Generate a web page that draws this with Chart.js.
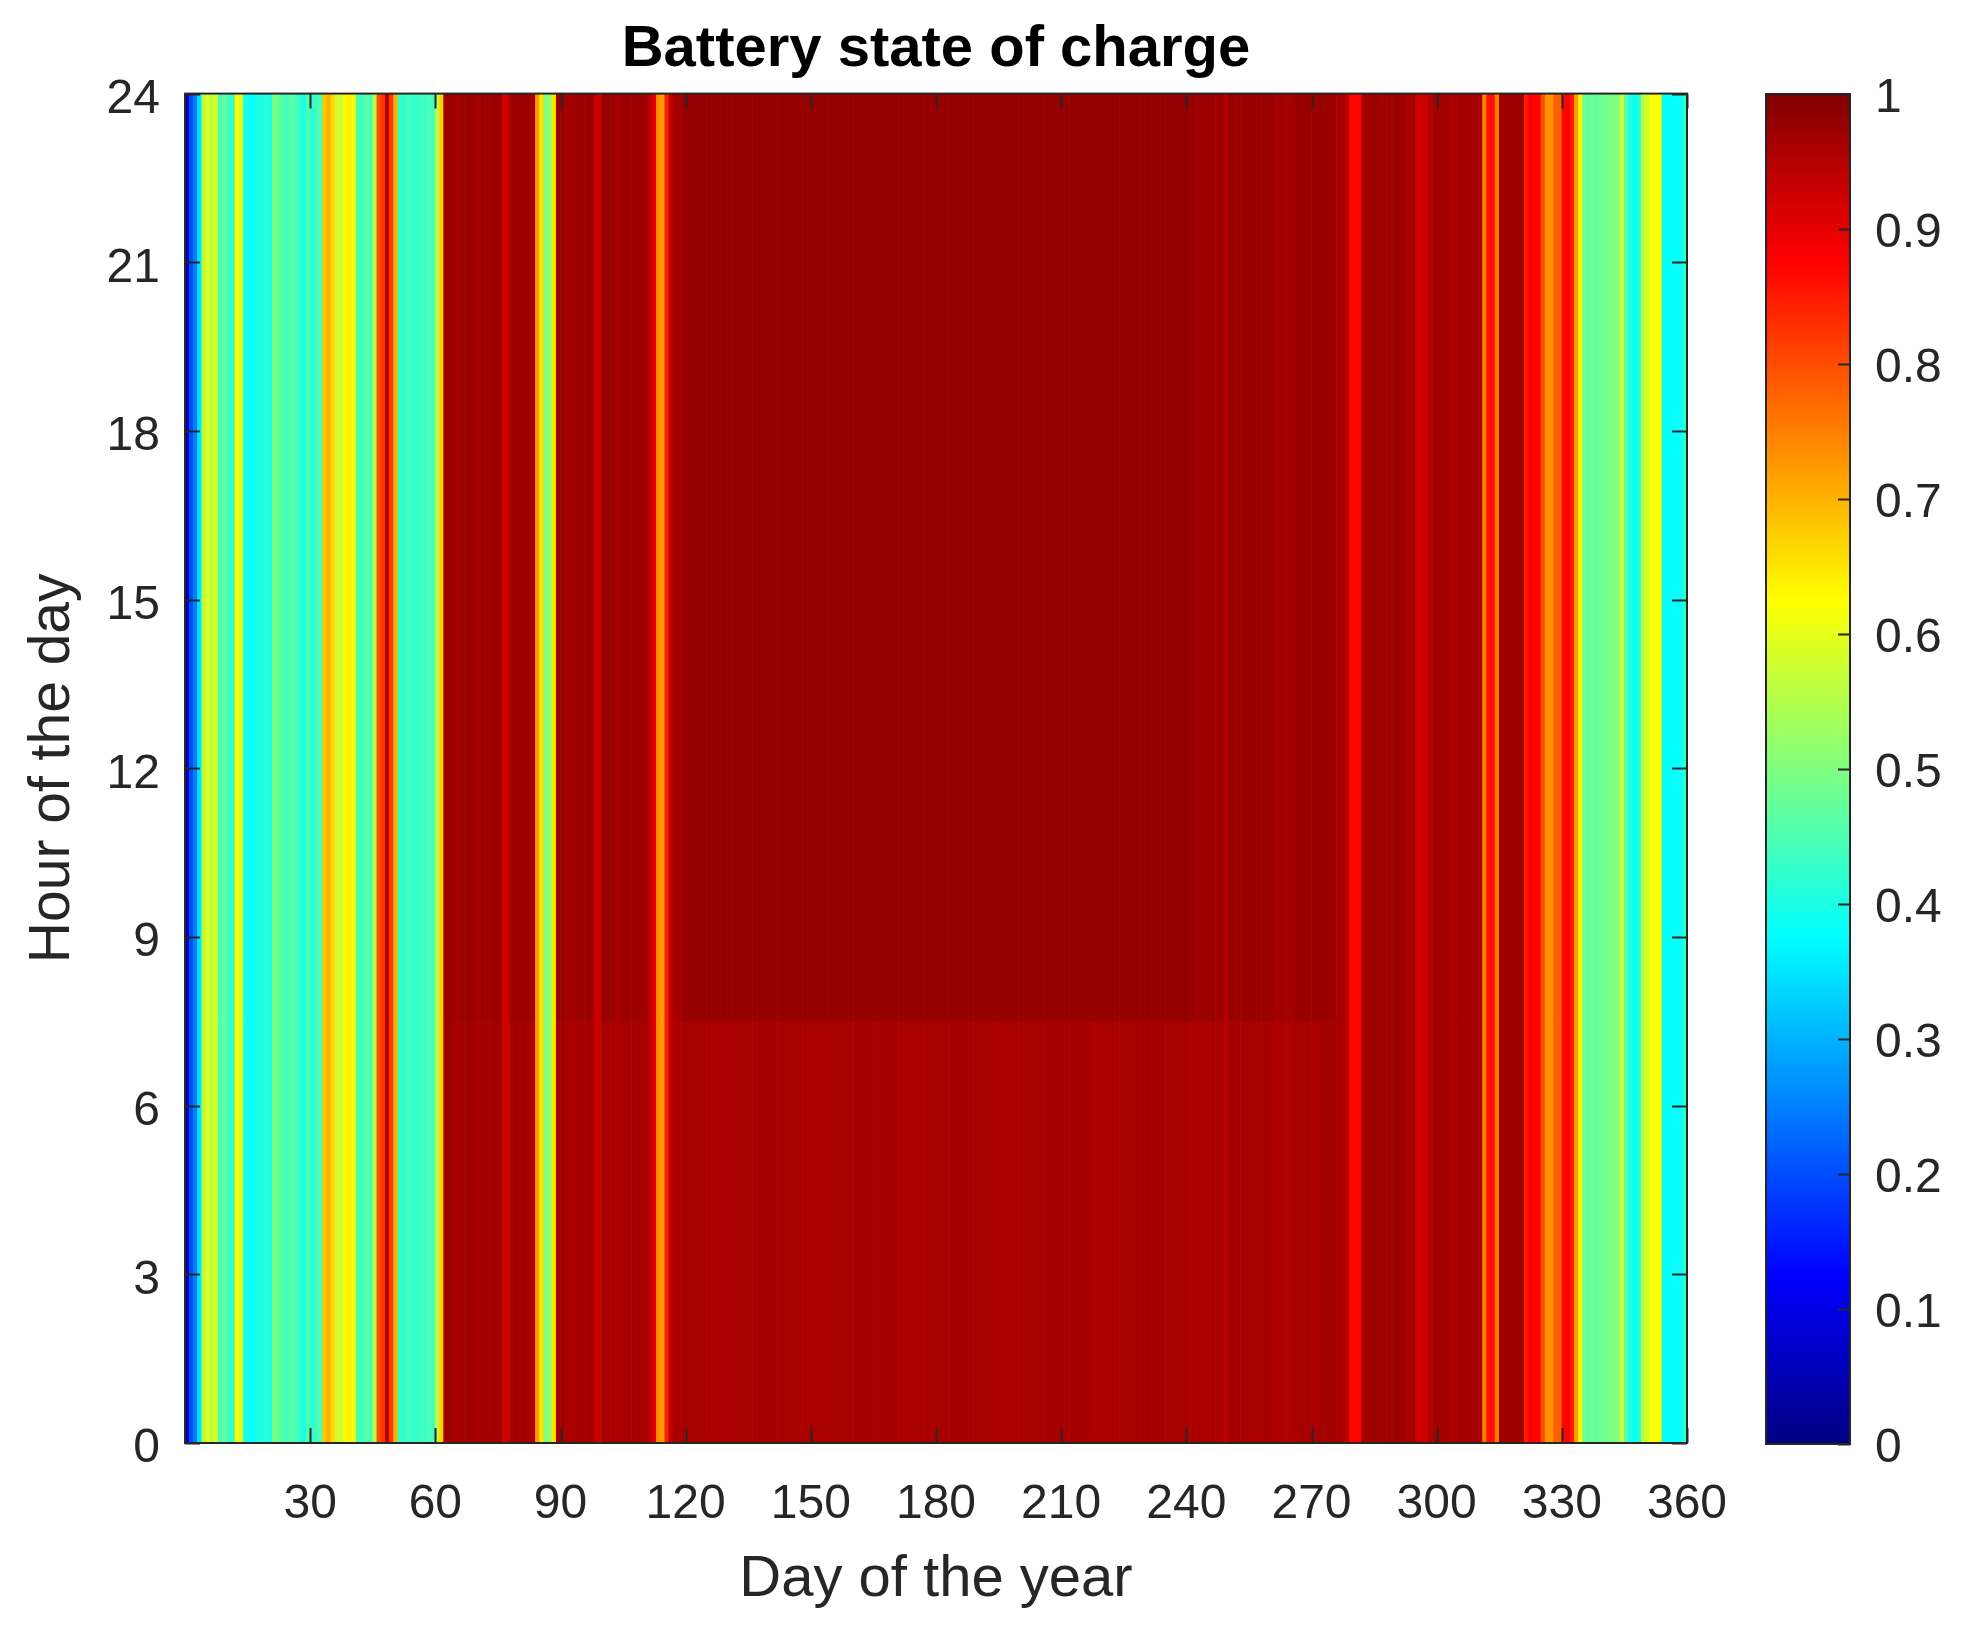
<!DOCTYPE html>
<html><head><meta charset="utf-8">
<script src="https://cdn.jsdelivr.net/npm/chart.js@4.4.1/dist/chart.umd.min.js"></script>
<style>
html,body{margin:0;padding:0;background:#fff;}
body{width:1964px;height:1633px;position:relative;overflow:hidden;}
#main{position:absolute;left:0;top:0;}
#cbar{position:absolute;left:1740px;top:0;}
</style></head><body>
<canvas id="main" width="1740" height="1633"></canvas>
<canvas id="cbar" width="224" height="1633"></canvas>
<script>
// ---------------- DATA ----------------
// Battery state of charge per day, for the daytime/evening band (hours 7.5-24)
const socDay = [
 0.05,0.20,0.25,0.35,0.55,0.60,0.56,0.58,0.45,0.47,
 0.44,0.43,0.62,0.60,0.40,0.38,0.38,0.40,0.40,0.42,
 0.40,0.50,0.48,0.45,0.44,0.46,0.45,0.43,0.40,0.45,
 0.42,0.44,0.45,0.68,0.70,0.66,0.58,0.58,0.63,0.64,
 0.62,0.45,0.44,0.46,0.45,0.55,0.80,0.82,0.95,0.82,
 0.70,0.43,0.42,0.44,0.43,0.42,0.44,0.43,0.45,0.44,
 0.55,0.67,0.97,0.975,0.97,0.965,0.975,0.97,0.975,0.97,
 0.965,0.975,0.97,0.97,0.975,0.97,0.92,0.93,0.97,0.975,
 0.97,0.975,0.97,0.96,0.72,0.65,0.50,0.52,0.65,0.975,
 0.975,0.965,0.965,0.965,0.975,0.97,0.975,0.97,0.93,0.93,
 0.975,0.975,0.975,0.96,0.97,0.975,0.97,0.97,0.975,0.97,
 0.97,0.94,0.90,0.74,0.72,0.85,0.94,0.96,0.965,0.975,
 0.978,0.978,0.978,0.978,0.978,0.978,0.978,0.978,0.978,0.978,
 0.978,0.978,0.978,0.978,0.978,0.978,0.978,0.978,0.978,0.978,
 0.978,0.978,0.978,0.978,0.978,0.978,0.978,0.978,0.978,0.978,
 0.978,0.978,0.978,0.978,0.978,0.978,0.978,0.978,0.978,0.978,
 0.978,0.978,0.978,0.978,0.978,0.978,0.978,0.978,0.978,0.978,
 0.978,0.978,0.978,0.978,0.978,0.978,0.978,0.978,0.978,0.978,
 0.978,0.978,0.978,0.978,0.978,0.978,0.978,0.978,0.978,0.978,
 0.978,0.978,0.978,0.978,0.978,0.978,0.978,0.978,0.978,0.978,
 0.978,0.978,0.978,0.978,0.978,0.978,0.978,0.978,0.978,0.978,
 0.978,0.978,0.978,0.978,0.978,0.978,0.978,0.978,0.978,0.978,
 0.978,0.978,0.978,0.978,0.978,0.978,0.978,0.978,0.978,0.978,
 0.978,0.978,0.978,0.978,0.978,0.978,0.978,0.978,0.978,0.978,
 0.978,0.978,0.97,0.975,0.97,0.97,0.975,0.97,0.97,0.95,
 0.975,0.975,0.975,0.975,0.975,0.975,0.975,0.975,0.975,0.975,
 0.975,0.965,0.965,0.965,0.965,0.965,0.975,0.975,0.975,0.975,
 0.975,0.975,0.975,0.975,0.97,0.97,0.96,0.96,0.95,0.87,
 0.87,0.87,0.96,0.965,0.97,0.97,0.965,0.97,0.97,0.965,
 0.975,0.97,0.965,0.96,0.96,0.92,0.92,0.93,0.95,0.965,
 0.965,0.965,0.965,0.95,0.96,0.965,0.96,0.965,0.96,0.965,
 0.96,0.75,0.86,0.86,0.75,0.97,0.97,0.97,0.97,0.97,
 0.97,0.85,0.875,0.875,0.87,0.80,0.73,0.73,0.78,0.78,
 0.87,0.875,0.85,0.72,0.63,0.48,0.47,0.48,0.47,0.48,
 0.48,0.50,0.50,0.50,0.58,0.45,0.40,0.39,0.40,0.56,
 0.58,0.62,0.62,0.62,0.38,0.38,0.38,0.38,0.38,0.42
];
// Battery state of charge per day, for the night/early-morning band (hours 0-7.5)
const socNight = [
 0.05,0.20,0.25,0.35,0.55,0.60,0.56,0.58,0.45,0.47,
 0.44,0.43,0.62,0.60,0.40,0.38,0.38,0.40,0.40,0.42,
 0.40,0.50,0.48,0.45,0.44,0.46,0.45,0.43,0.40,0.45,
 0.42,0.44,0.45,0.68,0.70,0.66,0.58,0.58,0.63,0.64,
 0.62,0.45,0.44,0.46,0.45,0.55,0.80,0.82,0.95,0.82,
 0.70,0.43,0.42,0.44,0.43,0.42,0.44,0.43,0.45,0.44,
 0.55,0.67,0.965,0.97,0.965,0.96,0.965,0.965,0.97,0.965,
 0.96,0.965,0.965,0.965,0.97,0.965,0.92,0.93,0.965,0.97,
 0.965,0.97,0.965,0.955,0.72,0.65,0.50,0.52,0.65,0.965,
 0.965,0.958,0.958,0.958,0.962,0.96,0.962,0.96,0.93,0.93,
 0.962,0.962,0.962,0.955,0.96,0.962,0.96,0.96,0.962,0.96,
 0.96,0.94,0.90,0.74,0.72,0.85,0.94,0.955,0.958,0.96,
 0.96,0.96,0.96,0.96,0.96,0.96,0.96,0.96,0.96,0.96,
 0.96,0.96,0.96,0.96,0.96,0.96,0.96,0.96,0.96,0.96,
 0.96,0.96,0.96,0.96,0.96,0.96,0.96,0.96,0.96,0.96,
 0.96,0.96,0.96,0.96,0.96,0.96,0.96,0.96,0.96,0.96,
 0.96,0.96,0.96,0.96,0.96,0.96,0.96,0.96,0.96,0.96,
 0.96,0.96,0.96,0.96,0.96,0.96,0.96,0.96,0.96,0.96,
 0.96,0.96,0.96,0.96,0.96,0.96,0.96,0.96,0.96,0.96,
 0.96,0.96,0.96,0.96,0.96,0.96,0.96,0.96,0.96,0.96,
 0.96,0.96,0.96,0.96,0.96,0.96,0.96,0.96,0.96,0.96,
 0.96,0.96,0.96,0.96,0.96,0.96,0.96,0.96,0.96,0.96,
 0.96,0.96,0.96,0.96,0.96,0.96,0.96,0.96,0.96,0.96,
 0.96,0.96,0.96,0.96,0.96,0.96,0.96,0.96,0.96,0.96,
 0.96,0.96,0.958,0.96,0.958,0.958,0.96,0.958,0.958,0.945,
 0.96,0.96,0.96,0.96,0.96,0.96,0.96,0.96,0.96,0.96,
 0.96,0.955,0.955,0.955,0.955,0.955,0.96,0.96,0.96,0.96,
 0.96,0.96,0.962,0.965,0.965,0.965,0.96,0.96,0.95,0.87,
 0.87,0.87,0.96,0.965,0.97,0.97,0.965,0.97,0.97,0.965,
 0.975,0.97,0.965,0.96,0.96,0.92,0.92,0.93,0.95,0.965,
 0.965,0.965,0.965,0.95,0.96,0.965,0.96,0.965,0.96,0.965,
 0.96,0.75,0.86,0.86,0.75,0.97,0.97,0.97,0.97,0.97,
 0.97,0.85,0.875,0.875,0.87,0.80,0.73,0.73,0.78,0.78,
 0.87,0.875,0.85,0.72,0.63,0.48,0.47,0.48,0.47,0.48,
 0.48,0.50,0.50,0.50,0.58,0.45,0.40,0.39,0.40,0.56,
 0.58,0.62,0.62,0.62,0.38,0.38,0.38,0.38,0.38,0.42
];
const nightBand = [0, 7.5];    // hours covered by socNight
const dayBand = [7.5, 24];     // hours covered by socDay
const xTickValues = [30,60,90,120,150,180,210,240,270,300,330,360];
const yTickValues = [0,3,6,9,12,15,18,21,24];
const cbTickValues = [0,0.1,0.2,0.3,0.4,0.5,0.6,0.7,0.8,0.9,1];
const cbTickLabels = ['0','0.1','0.2','0.3','0.4','0.5','0.6','0.7','0.8','0.9','1'];
const jetStops = [0,0.125,0.375,0.625,0.875,1];

// ---------------- HELPERS ----------------
const FONT = "'Liberation Sans', Arial, Helvetica, sans-serif";
const TXT = '#262626';
function jet(v){
  v = Math.max(0, Math.min(1, v));
  const c = t => Math.max(0, Math.min(1, t));
  const r = c(1.5 - Math.abs(4*v - 3)), g = c(1.5 - Math.abs(4*v - 2)), b = c(1.5 - Math.abs(4*v - 1));
  return 'rgb(' + Math.round(r*255) + ',' + Math.round(g*255) + ',' + Math.round(b*255) + ')';
}
const days = socDay.map((_, i) => i + 1);
function band(lo, hi){ return days.map(d => ({x: d - 0.5, y: [lo, hi]})); }

const frameTicks = {
  id: 'frameTicks',
  afterDatasetsDraw(chart, args, opts){
    const {ctx, chartArea: a, scales} = chart;
    const L = opts.len || 15;
    ctx.save();
    ctx.strokeStyle = opts.color || TXT;
    ctx.lineWidth = 2;
    ctx.beginPath();
    (opts.x || []).forEach(v => {
      const p = Math.round(scales.x.getPixelForValue(v)) + 0.5;
      ctx.moveTo(p, a.bottom); ctx.lineTo(p, a.bottom - L);
      ctx.moveTo(p, a.top); ctx.lineTo(p, a.top + L);
    });
    (opts.y || []).forEach(v => {
      const p = Math.round(scales.y.getPixelForValue(v)) + 0.5;
      if (opts.yLeft !== false) { ctx.moveTo(a.left, p); ctx.lineTo(a.left + L, p); }
      ctx.moveTo(a.right, p); ctx.lineTo(a.right - L, p);
    });
    ctx.stroke();
    ctx.strokeRect(a.left, a.top, a.right - a.left, a.bottom - a.top);
    ctx.restore();
  }
};

// ---------------- MAIN HEATMAP ----------------
const barCommon = {grouped: false, borderWidth: 0, barPercentage: 1, categoryPercentage: 1};
new Chart(document.getElementById('main'), {
  type: 'bar',
  data: {
    datasets: [
      Object.assign({label: 'night', data: band(nightBand[0], nightBand[1]), backgroundColor: socNight.map(jet)}, barCommon),
      Object.assign({label: 'day', data: band(dayBand[0], dayBand[1]), backgroundColor: socDay.map(jet)}, barCommon)
    ]
  },
  options: {
    responsive: false, animation: false, events: [],
    layout: {padding: {left: 0, right: 53, top: 0, bottom: 0}},
    plugins: {
      legend: {display: false}, tooltip: {enabled: false},
      title: {display: true, text: 'Battery state of charge', color: '#000', fullSize: false,
              font: {family: FONT, size: 58, weight: 'bold'}, padding: {top: 15, bottom: 9}},
      frameTicks: {x: xTickValues, y: yTickValues, len: 15}
    },
    scales: {
      x: {type: 'linear', min: 0, max: 360, offset: false,
          grid: {display: true, drawOnChartArea: false, drawTicks: true, tickLength: 33, color: 'rgba(0,0,0,0)'},
          border: {display: false},
          ticks: {font: {family: FONT, size: 48}, color: TXT, padding: 0, maxRotation: 0, autoSkip: false},
          afterBuildTicks: s => { s.ticks = xTickValues.map(v => ({value: v})); },
          afterFit: s => { s.height = 190; },
          title: {display: true, text: 'Day of the year', color: TXT, font: {family: FONT, size: 58}, padding: {top: 0, bottom: 18}}},
      y: {type: 'linear', min: 0, max: 24,
          grid: {display: false, drawTicks: false}, border: {display: false},
          ticks: {font: {family: FONT, size: 48}, color: TXT, padding: 25, autoSkip: false, labelOffset: 6},
          afterBuildTicks: s => { s.ticks = yTickValues.map(v => ({value: v})); },
          afterFit: s => { s.width = 185; },
          title: {display: true, text: 'Hour of the day', color: TXT, font: {family: FONT, size: 57}, padding: {top: 19, bottom: 0}}}
    }
  },
  plugins: [frameTicks]
});

// ---------------- COLORBAR ----------------
new Chart(document.getElementById('cbar'), {
  type: 'bar',
  data: {labels: ['SOC'], datasets: [{data: [[0, 1]], borderWidth: 0, barPercentage: 1, categoryPercentage: 1,
    backgroundColor: (c) => {
      const ch = c.chart; if (!ch.chartArea) return '#800000';
      const ys = ch.scales.y;
      const g = ch.ctx.createLinearGradient(0, ys.getPixelForValue(0), 0, ys.getPixelForValue(1));
      jetStops.forEach(s => g.addColorStop(s, jet(s)));
      return g;
    }}]},
  options: {
    responsive: false, animation: false, events: [],
    layout: {padding: {left: 26, right: 0, top: 94, bottom: 189}},
    plugins: {legend: {display: false}, tooltip: {enabled: false}, title: {display: false},
              frameTicks: {y: cbTickValues, yLeft: false, len: 12}},
    scales: {
      x: {display: false},
      y: {position: 'right', min: 0, max: 1,
          grid: {display: false, drawTicks: false}, border: {display: false},
          ticks: {font: {family: FONT, size: 48}, color: TXT, padding: 25, autoSkip: false, labelOffset: 5,
                  callback: (v, i) => cbTickLabels[i]},
          afterBuildTicks: s => { s.ticks = cbTickValues.map(v => ({value: v})); },
          afterFit: s => { s.width = 114; }}
    }
  },
  plugins: [frameTicks]
});
</script></body></html>
